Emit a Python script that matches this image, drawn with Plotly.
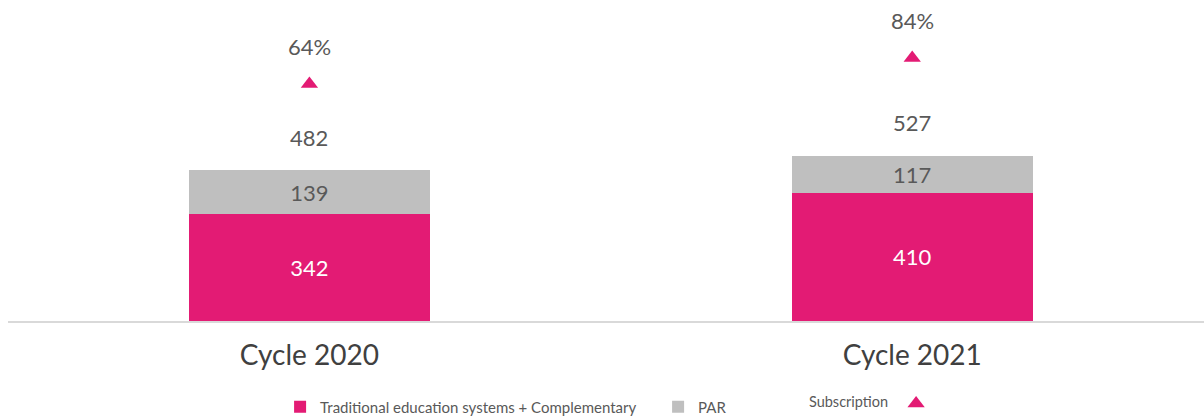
import plotly.graph_objects as go

categories = ["Cycle 2020", "Cycle 2021"]
traditional = [342, 410]
par = [139, 117]
totals = [482, 527]
subscription_pct = [64, 84]

PINK = "#E31B74"
GRAY = "#BFBFBF"
TXT = "#595959"
NUMFONT = "Lato"

fig = go.Figure()
fig.add_trace(go.Bar(
    x=categories, y=traditional, name="Traditional education systems + Complementary",
    marker=dict(color=PINK, line=dict(width=0)), width=0.4,
    text=[str(v) for v in traditional], textposition="inside", insidetextanchor="middle",
    textfont=dict(family=NUMFONT, size=22, color="white"),
))
fig.add_trace(go.Bar(
    x=categories, y=par, name="PAR",
    marker=dict(color=GRAY, line=dict(width=0)), width=0.4,
    text=[str(v) for v in par], textposition="inside", insidetextanchor="middle",
    textfont=dict(family=NUMFONT, size=22, color=TXT),
))
fig.add_trace(go.Scatter(
    x=categories, y=subscription_pct, name=" ", yaxis="y2", mode="markers",
    legend="legend2", hovertemplate="Subscription: %{y}%<extra></extra>",
    marker=dict(symbol="triangle-up", size=15, color=PINK),
))

for c, t in zip(categories, totals):
    fig.add_annotation(x=c, y=t, xref="x", yref="y", text=str(t), showarrow=False,
                       yshift=33, font=dict(family=NUMFONT, size=22, color=TXT))
for c, p in zip(categories, subscription_pct):
    fig.add_annotation(x=c, y=p, xref="x", yref="y2", text=f"{p}%", showarrow=False,
                       yshift=37, font=dict(family=NUMFONT, size=22, color=TXT))

fig.update_layout(
    width=1204, height=417,
    margin=dict(l=8, r=0, t=0, b=96, autoexpand=False),
    barmode="stack",
    plot_bgcolor="white", paper_bgcolor="white",
    showlegend=True,
    legend=dict(orientation="h", x=0.2275, xanchor="left", y=-0.268, yanchor="middle",
                font=dict(family="Lato", size=15, color=TXT), traceorder="normal",
                entrywidth=333, entrywidthmode="pixels", itemwidth=30),
    legend2=dict(orientation="h", x=0.668, xanchor="left", y=-0.258, yanchor="middle",
                 font=dict(family="Lato", size=14, color=TXT),
                 title=dict(text="Subscription", side="left",
                            font=dict(family="Lato", size=14.5, color=TXT))),
    xaxis=dict(range=[-0.5, 1.484], showline=True, linecolor="#D9D9D9", linewidth=2,
               ticks="", showgrid=False, zeroline=False, ticklabelstandoff=8,
               tickfont=dict(family="Lato", size=28, color="#404040")),
    yaxis=dict(range=[0, 1025], visible=False, showgrid=False, zeroline=False),
    yaxis2=dict(range=[-118.3, 128.6], overlaying="y", visible=False, showgrid=False,
                zeroline=False),
)

fig.write_html("out.html")
